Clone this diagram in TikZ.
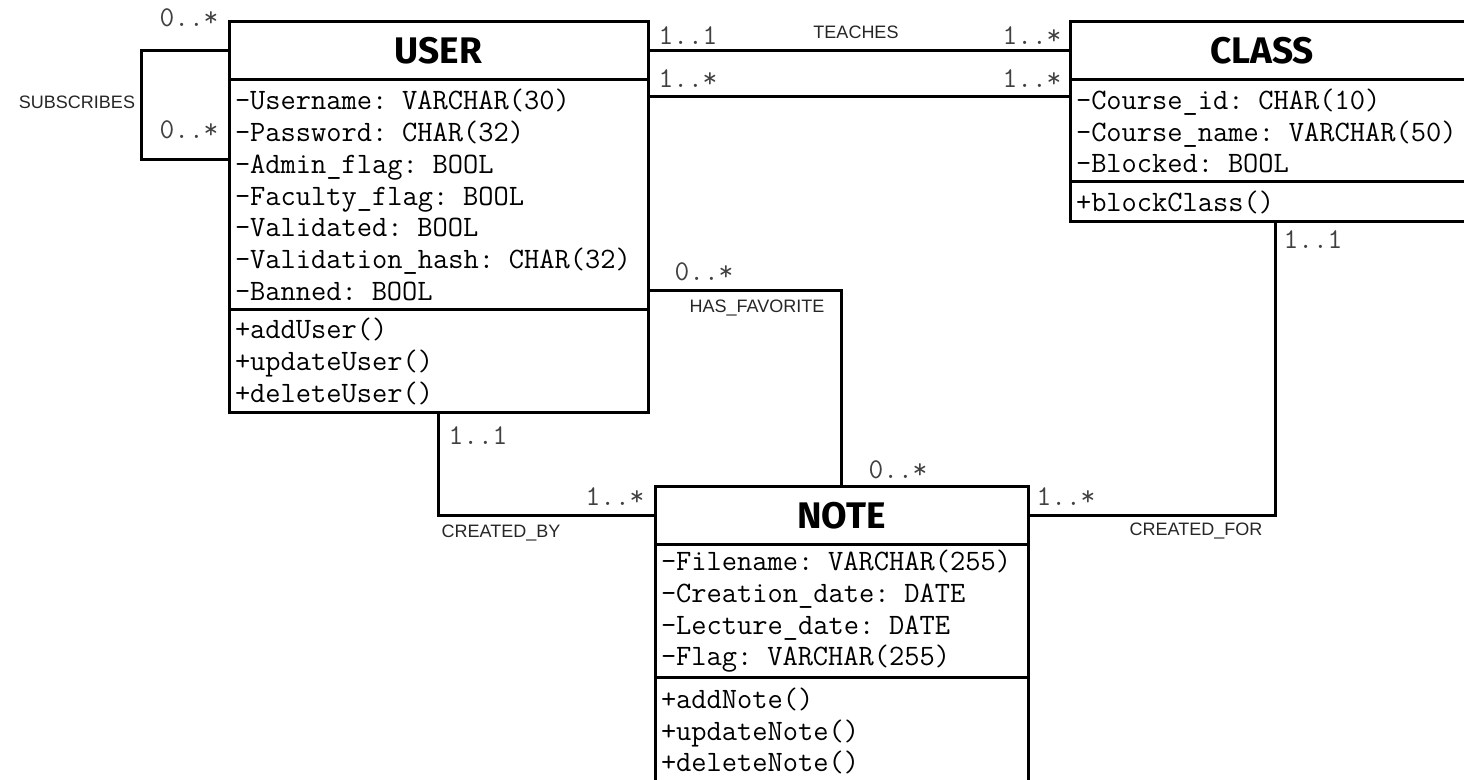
\documentclass[tikz,border=0pt]{standalone}
\usepackage{fontspec}
\setmainfont{Liberation Sans}
\newfontfamily\titlefont{Fira Sans}
\usetikzlibrary{positioning}

\tikzset{
  classtitle/.style={draw, line width=1.5pt, outer sep=0pt, inner sep=0pt,
    minimum height=29pt, font=\titlefont\bfseries\fontsize{18.5}{20}\selectfont},
  classbody/.style={draw, line width=1.5pt, outer sep=0pt, inner xsep=3pt,
    inner ysep=0pt, align=left, font=\ttfamily\fontsize{14.8}{15.85}\selectfont},
  assoc/.style={line width=1.5pt},
  mult/.style={font=\ttfamily\fontsize{14.3}{15}\selectfont, text=black!75, inner sep=0pt},
  relname/.style={font=\fontsize{9}{10}\selectfont, text=black!85, inner sep=0pt}
}

\begin{document}
\begin{tikzpicture}[x=0.5pt, y=-0.5pt]
  \useasboundingbox (0,0) rectangle (1464,780);
  \clip (0,0) rectangle (1464,780);
  % USER
  \node[classtitle, minimum width=209.5pt, anchor=north west] (user) at (229,22) {USER};
  \node[classbody, text width=203.5pt, minimum height=115pt, below=0pt of user] (useratt)
    {-Username: VARCHAR(30)\\-Password: CHAR(32)\\-Admin\_flag: BOOL\\-Faculty\_flag: BOOL\\
     -Validated: BOOL\\-Validation\_hash: CHAR(32)\\-Banned: BOOL};
  \node[classbody, text width=203.5pt, minimum height=51.5pt, below=0pt of useratt] (userops)
    {+addUser()\\+updateUser()\\+deleteUser()};
  % CLASS
  \node[classtitle, minimum width=210pt, anchor=north west] (class) at (1070,22) {CLASS\hspace*{18pt}};
  \node[classbody, text width=204pt, minimum height=51pt, below=0pt of class] (classatt)
    {-Course\_id: CHAR(10)\\-Course\_name: VARCHAR(50)\\-Blocked: BOOL};
  \node[classbody, text width=204pt, minimum height=20pt, below=0pt of classatt] (classops)
    {+blockClass()};
  % NOTE
  \node[classtitle, minimum width=186.5pt, anchor=north west] (note) at (655,487) {NOTE};
  \node[classbody, text width=180.5pt, minimum height=66.5pt, below=0pt of note] (noteatt)
    {-Filename: VARCHAR(255)\\-Creation\_date: DATE\\-Lecture\_date: DATE\\-Flag: VARCHAR(255)};
  \node[classbody, text width=180.5pt, minimum height=53pt, below=0pt of noteatt] (noteops)
    {+addNote()\\+updateNote()\\+deleteNote()};

  % associations
  \draw[assoc] (user.west) -- ++(-88,0) |- ([yshift=-40pt]useratt.north west);
  \draw[assoc] (user.east) -- (class.west);
  \draw[assoc] ([yshift=-8.5pt]useratt.north east) -- ([yshift=-8.5pt]classatt.north west);
  \draw[assoc] ([yshift=9.5pt]useratt.south east) -| (note.north);
  \draw[assoc] (userops.south) |- (note.west);
  \draw[assoc] ([xshift=-2.5pt]classops.south) |- (note.east);

  % names and multiplicities
  \node[relname] (subs) at (77,102) {SUBSCRIBES};
  \node[mult] (subsa) at (189,18) {0..*};
  \node[mult] (subsb) at (189,130) {0..*};
  \node[relname] (teach) at (856,32) {TEACHES};
  \node[mult] (teacha) at (688,36) {1..1};
  \node[mult] (teachb) at (1032,36) {1..*};
  \node[mult] (enrola) at (688,79) {1..*};
  \node[mult] (enrolb) at (1032,79) {1..*};
  \node[relname] (fav) at (757,308) {HAS\_FAVORITE};
  \node[mult] (fava) at (704,272) {0..*};
  \node[mult] (favb) at (898,470) {0..*};
  \node[relname] (crby) at (501,533) {CREATED\_BY};
  \node[mult] (crbya) at (478,436) {1..1};
  \node[mult] (crbyb) at (615,497) {1..*};
  \node[relname] (crfor) at (1196,531) {CREATED\_FOR};
  \node[mult] (crfora) at (1313,240) {1..1};
  \node[mult] (crforb) at (1066,497) {1..*};
\end{tikzpicture}
\end{document}
